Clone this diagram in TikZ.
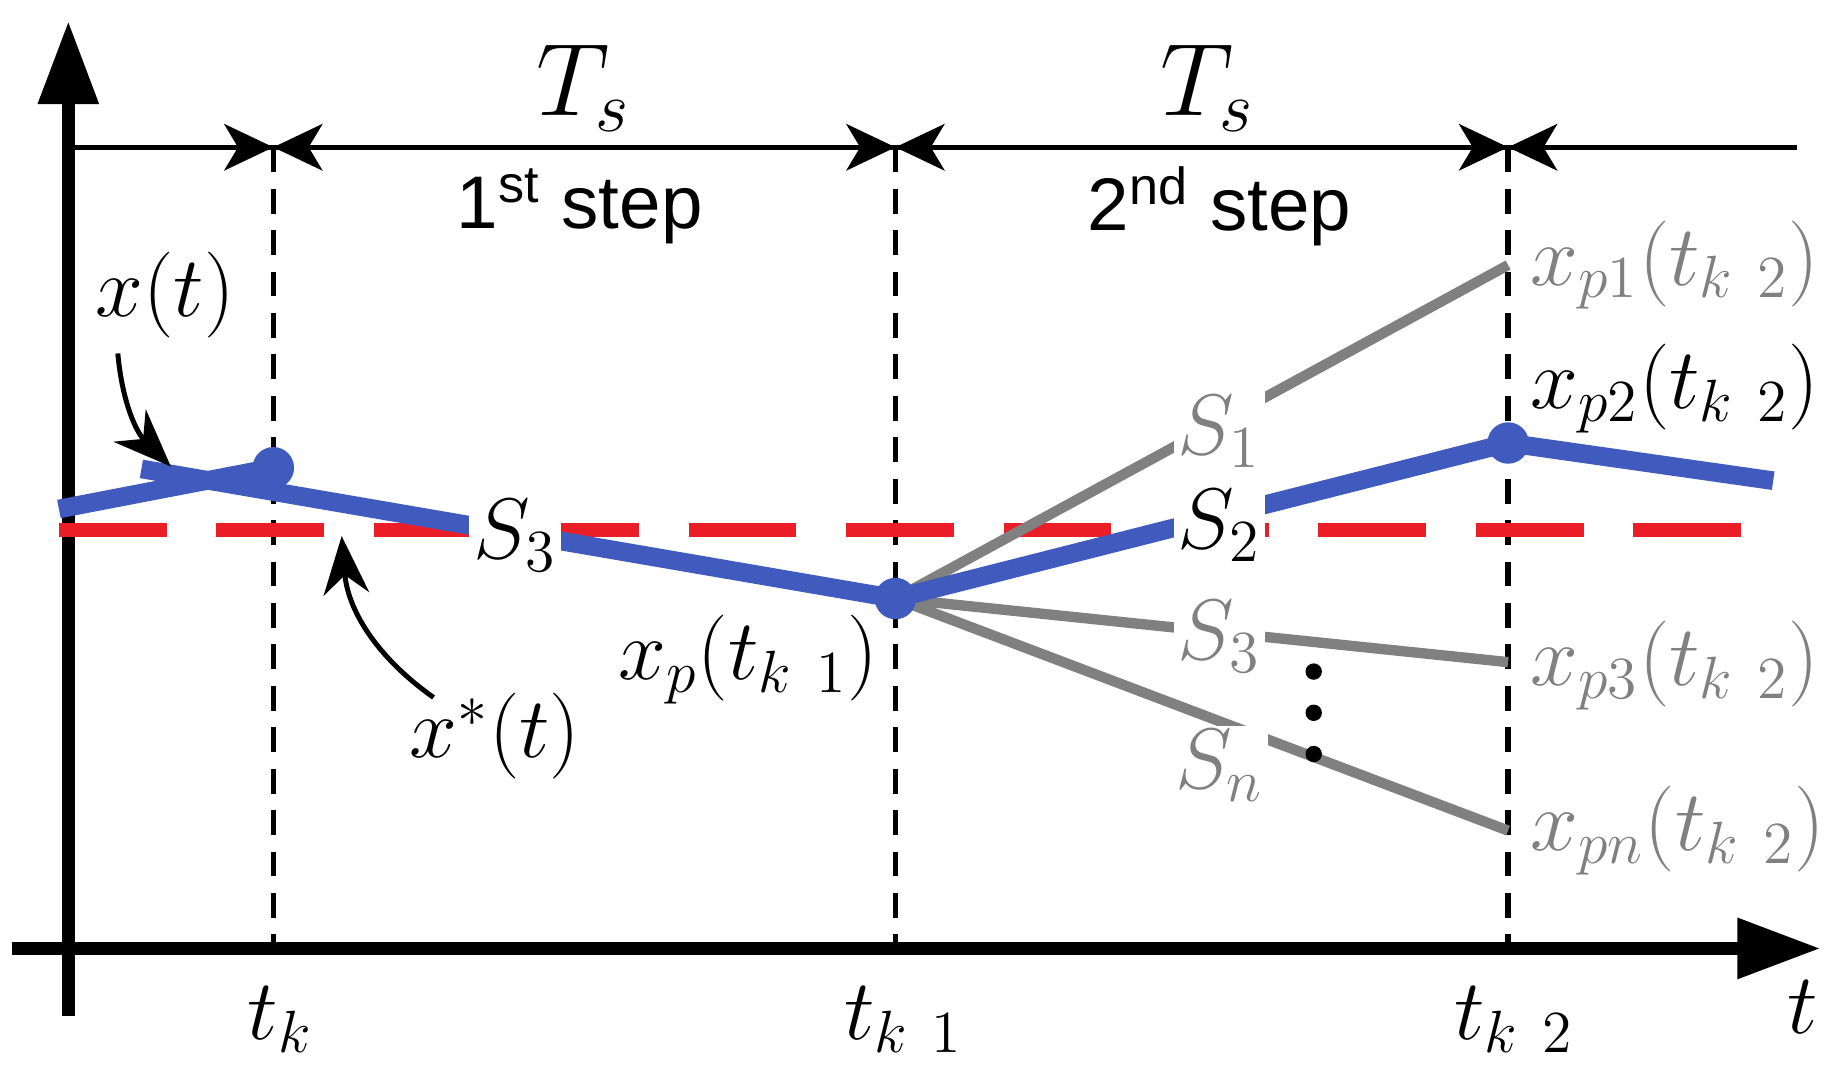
\documentclass[tikz,border=0pt]{standalone}
\usepackage{fontspec}
\setsansfont{Liberation Sans}
\usetikzlibrary{arrows.meta}
\definecolor{bl}{RGB}{65,90,190}
\definecolor{gr}{RGB}{128,128,128}
\definecolor{rd}{RGB}{235,30,40}
\tikzset{
 lab/.style={font=\fontsize{20}{24}\selectfont, inner sep=1pt},
 glab/.style={lab, text=gr},
 vline/.style={dashed, line width=1.3pt, dash pattern=on 6pt off 4pt},
 blue/.style={bl, line width=4.5pt},
 grey/.style={gr, line width=2.5pt},
 dot/.style={circle, fill=bl, inner sep=0pt, minimum size=10pt},
}
\begin{document}
\begin{tikzpicture}[x=0.01cm,y=-0.01cm]
\useasboundingbox (0,0) rectangle (1560,904);
% axes
\coordinate (yb) at (58,862); \coordinate (yt) at (58,18);
\coordinate (xl) at (10,805); \coordinate (xr) at (1545,805);
\draw[line width=3pt,-{Triangle[length=20pt,width=14pt]}] (yb) -- (yt);
\draw[line width=3pt,-{Triangle[length=20pt,width=14pt]}] (xl) -- (xr);
\coordinate (tl) at (58,125); \coordinate (tr) at (1525,125);
\draw[line width=1.2pt] (tl) -- (tr);
% ticks
\foreach \x/\n in {232/a,760/b,1280/c}{
 \coordinate (top\n) at (\x,125); \coordinate (bot\n) at (\x,805);
 \draw[vline] (top\n) -- (bot\n);
 \fill (\x-42,105) -- (\x,125) -- (\x-42,145) -- (\x-30,125) -- cycle;
 \fill (\x+42,105) -- (\x,125) -- (\x+42,145) -- (\x+30,125) -- cycle;
}
% red dashed
\coordinate (r1) at (50,450); \coordinate (r2) at (1510,450);
\draw[rd, line width=3.5pt, dash pattern=on 26pt off 12pt] (r1) -- (r2);
% gray
\coordinate (P) at (760,508);
\coordinate (g1) at (1280,225); \coordinate (g3) at (1280,562); \coordinate (gn) at (1280,705);
\draw[grey] (P) -- (g1); \draw[grey] (P) -- (g3); \draw[grey] (P) -- (gn);
% blue
\coordinate (b0) at (50,432); \coordinate (b1) at (232,397);
\coordinate (b2) at (120,398); \coordinate (b4) at (1280,376); \coordinate (b5) at (1505,408);
\draw[blue] (b0) -- (b1);
\draw[blue] (b2) -- (P) -- (b4) -- (b5);
\node[dot] (d1) at (b1) {}; \node[dot] (d2) at (P) {}; \node[dot] (d3) at (b4) {};
% labels
\node[glab, fill=white] (S1) at (1035,366) {$S_1$};
\node[lab, fill=white] (S2) at (1035,446) {$S_2$};
\node[glab, fill=white] (S3b) at (1035,540) {$S_3$};
\node[glab, fill=white] (Sn) at (1035,650) {$S_n$};
\node[lab, fill=white] (S3) at (437,455) {$S_3$};
\node[circle,fill=black,inner sep=1.4pt] (v1) at (1115,570) {};
\node[circle,fill=black,inner sep=1.4pt] (v2) at (1115,605) {};
\node[circle,fill=black,inner sep=1.4pt] (v3) at (1115,640) {};
\node[glab, anchor=west] (l1) at (1295,225) {$x_{p1}(t_{k\ 2})$};
\node[lab, anchor=west] (l2) at (1295,330) {$x_{p2}(t_{k\ 2})$};
\node[glab, anchor=west] (l3) at (1295,565) {$x_{p3}(t_{k\ 2})$};
\node[glab, anchor=west] (ln) at (1295,705) {$x_{pn}(t_{k\ 2})$};
\node[lab] (xt) at (140,250) {$x(t)$};
\node[lab] (xs) at (420,625) {$x^{*}(t)$};
\node[lab] (xp) at (635,560) {$x_p(t_{k\ 1})$};
\coordinate (a1) at (145,396); \coordinate (a2) at (290,455);
\draw[line width=1.2pt,-{Stealth[length=14pt,width=11pt]}] (100,300) to[bend right=20] (a1);
\draw[line width=1.2pt,-{Stealth[length=14pt,width=11pt]}] (368,592) to[bend left=25] (a2);
\node[lab, font=\fontsize{27}{30}\selectfont] (T1) at (495,75) {$T_s$};
\node[lab, font=\fontsize{27}{30}\selectfont] (T2) at (1025,75) {$T_s$};
\node[font=\sffamily\fontsize{18}{22}\selectfont] (st1) at (492,175) {1\textsuperscript{st} step};
\node[font=\sffamily\fontsize{18}{22}\selectfont] (st2) at (1035,175) {2\textsuperscript{nd} step};
\node[lab] (tk) at (238,865) {$t_k$};
\node[lab] (tk1) at (767,865) {$t_{k\ 1}$};
\node[lab] (tk2) at (1285,865) {$t_{k\ 2}$};
\node[lab] (t) at (1530,855) {$t$};
\end{tikzpicture}
\end{document}
